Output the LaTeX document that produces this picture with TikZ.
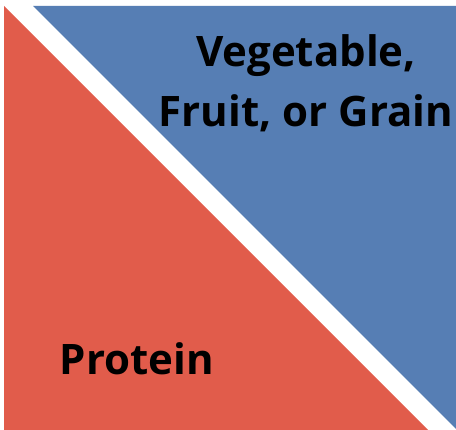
\documentclass[tikz,border=0pt]{standalone}
\usepackage{fontspec}
\setmainfont{Open Sans}
\usepackage{xcolor}
\usepackage{tikz}
\definecolor{areaProtein}{RGB}{225,92,75}
\definecolor{areaPlant}{RGB}{86,126,180}
\tikzset{
  foodArea/.style={draw=none},
  proteinArea/.style={foodArea, fill=areaProtein},
  plantArea/.style={foodArea, fill=areaPlant},
  areaLabel/.style={
    inner sep=0pt,
    anchor=base,
    align=center,
    font=\fontsize{42}{60}\selectfont\bfseries
  }
}

\begin{document}
\begin{tikzpicture}[x=1pt, y=-1pt]
  \useasboundingbox (0,0) rectangle (456,430);
  \fill[white] (0,0) rectangle (456,430);

  \fill[proteinArea] (4,6) -- (4,430) -- (428,430) -- cycle;
  \fill[plantArea] (33,6) -- (456,6) -- (456,429) -- cycle;

  % base anchor sits on the last line
  \node[areaLabel] (plantLabel) at (306,127) {Vegetable,\\Fruit, or Grain};
  \node[areaLabel] (proteinLabel) at (137,375) {Protein};
\end{tikzpicture}
\end{document}
